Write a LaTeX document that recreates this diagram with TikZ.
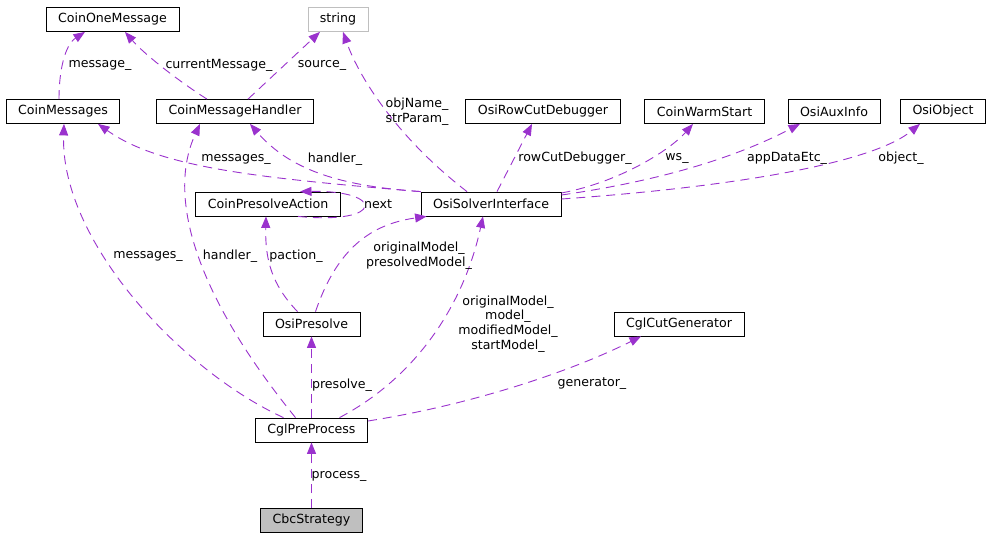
\documentclass[tikz,border=0pt]{standalone}
\usepackage{fontspec}
\setmainfont{DejaVu Sans}
\usepackage{xcolor}
\usepackage{tikz}
\usetikzlibrary{arrows.meta,calc,positioning}
\definecolor{usecol}{HTML}{9A32CD}
\definecolor{boxgray}{HTML}{BFBFBF}

\begin{document}
\begin{tikzpicture}[x=1pt,y=-1pt,
		cls/.style={draw, fill=white, line width=0.8pt, inner xsep=12pt, inner ysep=2pt, minimum height=24pt, font=\fontsize{12.6}{14.7}\selectfont},
		ext/.style={cls, draw=boxgray},
		root/.style={cls, fill=boxgray},
		lbl/.style={inner sep=0pt, align=center, font=\fontsize{12.6}{14.7}\selectfont},
		uses/.style={->, usecol, line width=0.9pt, dash pattern=on 9pt off 6pt},
		>={Triangle[length=11.5pt,width=9pt]}
		]
		\useasboundingbox (0,0) rectangle (993,538);
	
		% Klassen des Kollaborationsgraphen
		\node[cls] (COM) at (112.5,19.5) {CoinOneMessage};
		\node[ext] (STR) at (338,19.5) {string};
		\node[cls] (CM) at (63,111.5) {CoinMessages};
		\node[cls] (CMH) at (235,111.5) {CoinMessageHandler};
		\node[cls] (ORD) at (543,111.5) {OsiRowCutDebugger};
		\node[cls] (CWS) at (704.5,111.5) {CoinWarmStart};
		\node[cls] (OAI) at (834,111.5) {OsiAuxInfo};
		\node[cls] (OO) at (943,111.5) {OsiObject};
		\node[cls] (CPA) at (268,204) {CoinPresolveAction};
		\node[cls] (OSI) at (491,204) {OsiSolverInterface};
		\node[cls] (OP) at (311.5,324) {OsiPresolve};
		\node[cls] (CCG) at (679,324) {CglCutGenerator};
		\node[cls] (CPP) at (311.5,430) {CglPreProcess};
		\node[root] (CBC) at (311.5,520.5) {CbcStrategy};
	
		\draw[uses] ([xshift=-4pt]CM.north) .. controls (59,70) and (65,45) .. ([xshift=-27.5pt]COM.south);
		\draw[uses] ([xshift=-28pt]CMH.north) .. controls (180,82) and (145,55) .. ([xshift=12.5pt]COM.south);
		\draw[uses] ([xshift=13pt]CMH.north) -- ([xshift=-18pt]STR.south);
		\draw[uses] ([xshift=-24pt]OSI.north) .. controls (400,140) and (360,80) .. ([xshift=5pt]STR.south);
		\draw[uses] (OSI.north west) .. controls (260,178) and (160,168) .. ([xshift=35pt]CM.south);
		\draw[uses] (OSI.north west) .. controls (340,186) and (290,170) .. ([xshift=15pt]CMH.south);
		\draw[uses] ([xshift=6pt]OSI.north) -- ([xshift=-11pt]ORD.south);
		\draw[uses] ([yshift=11pt]OSI.east) .. controls (620,182) and (670,150) .. ([xshift=-11.5pt]CWS.south);
		\draw[uses] ([yshift=9pt]OSI.east) .. controls (680,178) and (750,150) .. ([xshift=-34pt]OAI.south);
		\draw[uses] ([yshift=5pt]OSI.east) .. controls (720,188) and (870,165) .. ([xshift=-23pt]OO.south);
		\draw[uses] ([xshift=30pt]CPA.south) .. controls (385,225) and (385,190) .. ([xshift=32pt]CPA.north);
		\draw[uses] ([xshift=-14pt]OP.north) .. controls (272,285) and (265,260) .. ([xshift=-2pt]CPA.south);
		\draw[uses] ([xshift=4pt]OP.north) .. controls (335,255) and (365,225) .. ([xshift=6pt]OSI.south west);
		\draw[uses] ([xshift=28pt]CPP.north) .. controls (420,375) and (465,300) .. ([xshift=-8pt]OSI.south);
		\draw[uses] (CPP.north) -- (OP.south);
		\draw[uses] ([yshift=9pt]CPP.east) .. controls (470,405) and (570,372) .. ([xshift=-38pt]CCG.south);
		\draw[uses] ([xshift=-28pt]CPP.north) .. controls (180,370) and (60,240) .. ([xshift=1pt]CM.south);
		\draw[uses] ([xshift=-16pt]CPP.north) .. controls (200,300) and (165,200) .. ([xshift=-35pt]CMH.south);
		\draw[uses] (CBC.north) -- (CPP.south);
	
		\node[lbl] (lmsg) at (100,65) {message\_};
		\node[lbl] (lcur) at (219,65) {currentMessage\_};
		\node[lbl] (lsrc) at (322,65) {source\_};
		\node[lbl] (lobj) at (417,112) {objName\_\\strParam\_};
		\node[lbl] (lmsgs) at (236,159) {messages\_};
		\node[lbl] (lhdl) at (335,159) {handler\_};
		\node[lbl] (lnext) at (378,204) {next};
		\node[lbl] (lrcd) at (575,158) {rowCutDebugger\_};
		\node[lbl] (lws) at (677,158) {ws\_};
		\node[lbl] (lapp) at (787,158) {appDataEtc\_};
		\node[lbl] (lobject) at (901,158) {object\_};
		\node[lbl] (lmsgs2) at (148,256) {messages\_};
		\node[lbl] (lhdl2) at (230,256) {handler\_};
		\node[lbl] (lpac) at (296,256) {paction\_};
		\node[lbl] (lorig) at (419,256) {originalModel\_\\presolvedModel\_};
		\node[lbl] (lmodel) at (508,324) {originalModel\_\\model\_\\modifiedModel\_\\startModel\_};
		\node[lbl] (lpre) at (342,385) {presolve\_};
		\node[lbl] (lgen) at (592,384) {generator\_};
		\node[lbl] (lproc) at (339,476) {process\_};
	\end{tikzpicture}
\end{document}
